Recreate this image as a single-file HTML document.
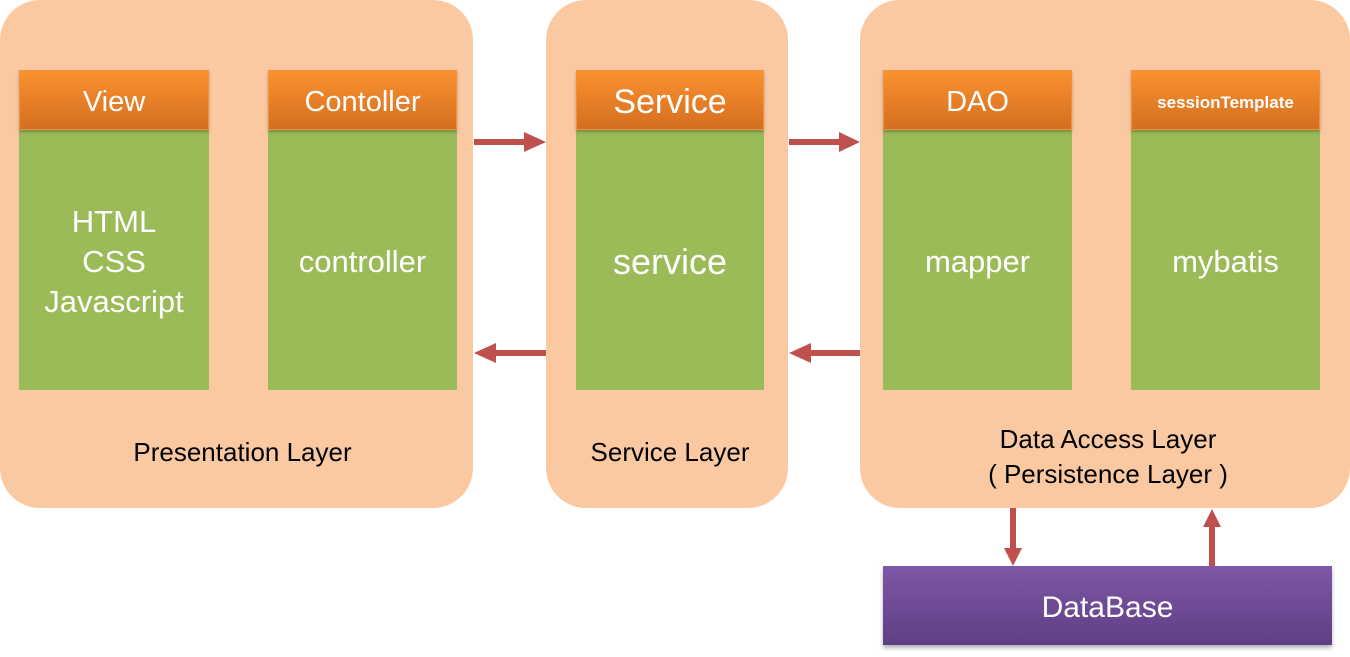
<!DOCTYPE html>
<html><head><meta charset="utf-8"><style>
body{margin:0;width:1350px;height:657px;background:#fff;position:relative;overflow:hidden;font-family:"Segoe UI","Liberation Sans","Noto Sans CJK KR",sans-serif}
.p{position:absolute;background:#fac9a1;border-radius:40px;top:0;height:508px}
.h{position:absolute;top:70px;height:60px;padding-top:5px;background:linear-gradient(#fb9130,#d46f1f);color:#fff;font-size:29px;display:flex;align-items:center;justify-content:center;box-shadow:0 2px 3px rgba(0,0,0,.25);border:1px solid #f09040;box-sizing:border-box}
.g{position:absolute;top:130px;height:260px;padding-top:4px;box-sizing:border-box;background:#9bbb59;color:#fff;font-size:31px;display:flex;align-items:center;justify-content:center;text-align:center;line-height:40px}
.l{position:absolute;color:#000;font-size:26px;text-align:center;line-height:35px}
</style></head><body>
<div class="p" style="left:0;width:473px"></div>
<div class="p" style="left:546px;width:242px"></div>
<div class="p" style="left:860px;width:490px"></div>

<div class="g" style="left:19px;width:190px">HTML<br>CSS<br>Javascript</div>
<div class="g" style="left:268px;width:189px">controller</div>
<div class="g" style="left:576px;width:188px;font-size:36px">service</div>
<div class="g" style="left:883px;width:189px">mapper</div>
<div class="g" style="left:1131px;width:189px">mybatis</div>

<div class="h" style="left:19px;width:190px">View</div>
<div class="h" style="left:268px;width:189px">Contoller</div>
<div class="h" style="left:576px;width:188px;font-size:34px">Service</div>
<div class="h" style="left:883px;width:189px">DAO</div>
<div class="h" style="left:1131px;width:189px;font-size:17px;font-weight:bold">sessionTemplate</div>

<div class="l" style="left:0;width:485px;top:435px">Presentation Layer</div>
<div class="l" style="left:546px;width:248px;top:435px">Service Layer</div>
<div class="l" style="left:860px;width:496px;top:422px">Data Access Layer<br>( Persistence Layer )</div>

<div style="position:absolute;left:883px;top:566px;width:449px;height:79px;padding-top:4px;box-sizing:border-box;background:linear-gradient(#7e57a6,#5f3f84);color:#fff;font-size:30px;display:flex;align-items:center;justify-content:center;box-shadow:0 3px 4px rgba(0,0,0,.3)">DataBase</div>

<svg width="1350" height="657" style="position:absolute;left:0;top:0">
<g fill="#c0504d">
<rect x="474" y="139" width="52" height="6"/><polygon points="524,132 546,142 524,152"/>
<rect x="789" y="139" width="52" height="6"/><polygon points="839,132 860,142 839,152"/>
<rect x="494" y="350" width="52" height="6"/><polygon points="496,343 474,353 496,363"/>
<rect x="809" y="350" width="51" height="6"/><polygon points="811,343 789,353 811,363"/>
<rect x="1010" y="508" width="6" height="40"/><polygon points="1004,548 1013,566 1022,548"/>
<rect x="1209" y="526" width="6" height="40"/><polygon points="1203,527 1212,509 1221,527"/>
</g></svg>
</body></html>
